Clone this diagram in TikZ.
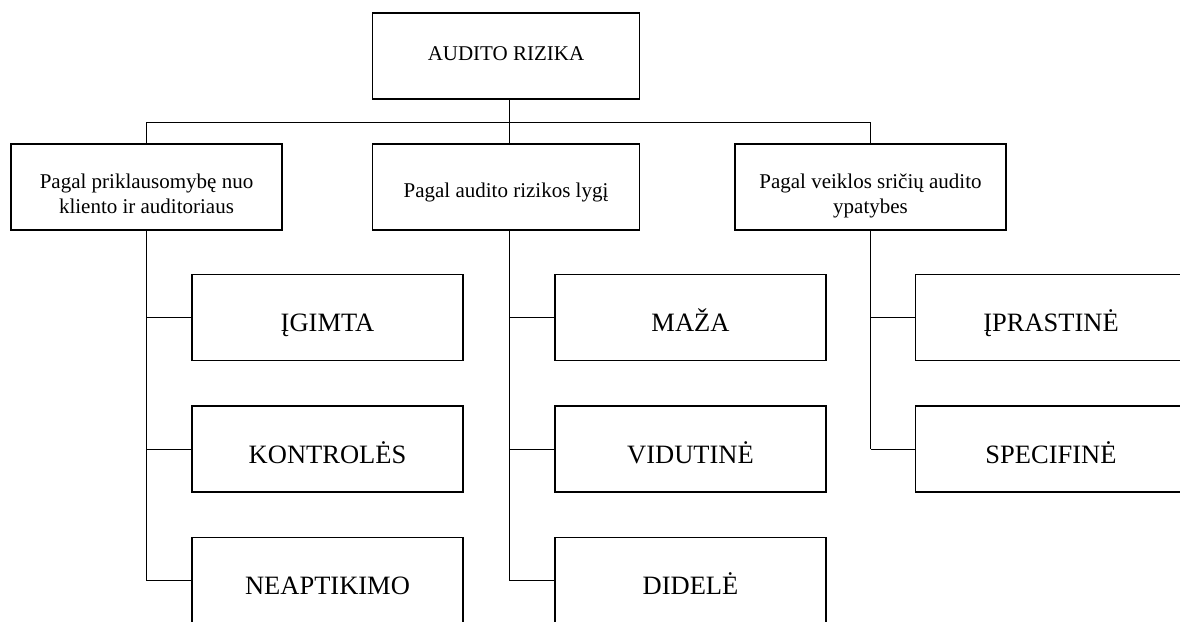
\documentclass[tikz,border=0pt]{standalone}
\usepackage{fontspec}
\setmainfont{Liberation Serif}
\newcommand{\atbase}[2]{\raisebox{-#1}[0pt][0pt]{#2}}
\newcommand{\twolines}[3]{\raisebox{-#1}[0pt][0pt]{\begin{tabular}[t]{@{}c@{}}#2\\#3\end{tabular}}}
\begin{document}
\begin{tikzpicture}[x=1pt,y=-1pt,
  box/.style={draw,line width=1.5pt,rectangle,inner sep=0pt,minimum width=271pt,minimum height=86pt},
  topbox/.style={box,minimum width=267pt},
  small/.style={font=\fontsize{21}{25}\selectfont},
  big/.style={font=\fontsize{26.5}{30}\selectfont},
  conn/.style={line width=0.9pt}]
\useasboundingbox (0,0) rectangle (1180,621);
\fill[white] (0,0) rectangle (1180,621);
\clip (0,0) rectangle (1180,621);
% top
\node[topbox,small] (top) at (506,56) {\atbase{4pt}{AUDITO RIZIKA}};
% level 2
\node[box,small] (left) at (146.5,187) {\twolines{1.5pt}{Pagal priklausomybę nuo}{kliento ir auditoriaus}};
\node[topbox,small] (mid) at (506,187) {\atbase{10pt}{Pagal audito rizikos lygį}};
\node[box,small] (right) at (870.5,187) {\twolines{1.5pt}{Pagal veiklos sričių audito}{ypatybes}};
% children left
\node[box,big] (l1) at (327.5,317.5) {\atbase{14pt}{ĮGIMTA}};
\node[box,big] (l2) at (327.5,449) {\atbase{14pt}{KONTROLĖS}};
\node[box,big] (l3) at (327.5,580.5) {\atbase{14pt}{NEAPTIKIMO}};
% children middle
\node[box,big] (m1) at (690.5,317.5) {\atbase{14pt}{MAŽA}};
\node[box,big] (m2) at (690.5,449) {\atbase{14pt}{VIDUTINĖ}};
\node[box,big] (m3) at (690.5,580.5) {\atbase{14pt}{DIDELĖ}};
% children right
\node[box,big] (r1) at (1051,317.5) {\atbase{14pt}{ĮPRASTINĖ}};
\node[box,big] (r2) at (1051,449) {\atbase{14pt}{SPECIFINĖ}};
% bus
\coordinate (busL) at (146.5,122);
\coordinate (busM) at (509,122);
\coordinate (busR) at (870.5,122);
\draw[conn] (busL) -- (busR);
\draw[conn] (top.south -| busM) -- (busM);
\draw[conn] (busL) -- (left.north);
\draw[conn] (busM) -- (mid.north -| busM);
\draw[conn] (busR) -- (right.north);
% left branch
\draw[conn] (left.south) -- (left.south |- l3.west);
\draw[conn] (left.south |- l1.west) -- (l1.west);
\draw[conn] (left.south |- l2.west) -- (l2.west);
\draw[conn] (left.south |- l3.west) -- (l3.west);
% middle branch
\draw[conn] (mid.south -| busM) -- (m3.west -| busM);
\draw[conn] (m1.west -| busM) -- (m1.west);
\draw[conn] (m2.west -| busM) -- (m2.west);
\draw[conn] (m3.west -| busM) -- (m3.west);
% right branch
\draw[conn] (right.south) -- (right.south |- r2.west);
\draw[conn] (right.south |- r1.west) -- (r1.west);
\draw[conn] (right.south |- r2.west) -- (r2.west);
\end{tikzpicture}
\end{document}
